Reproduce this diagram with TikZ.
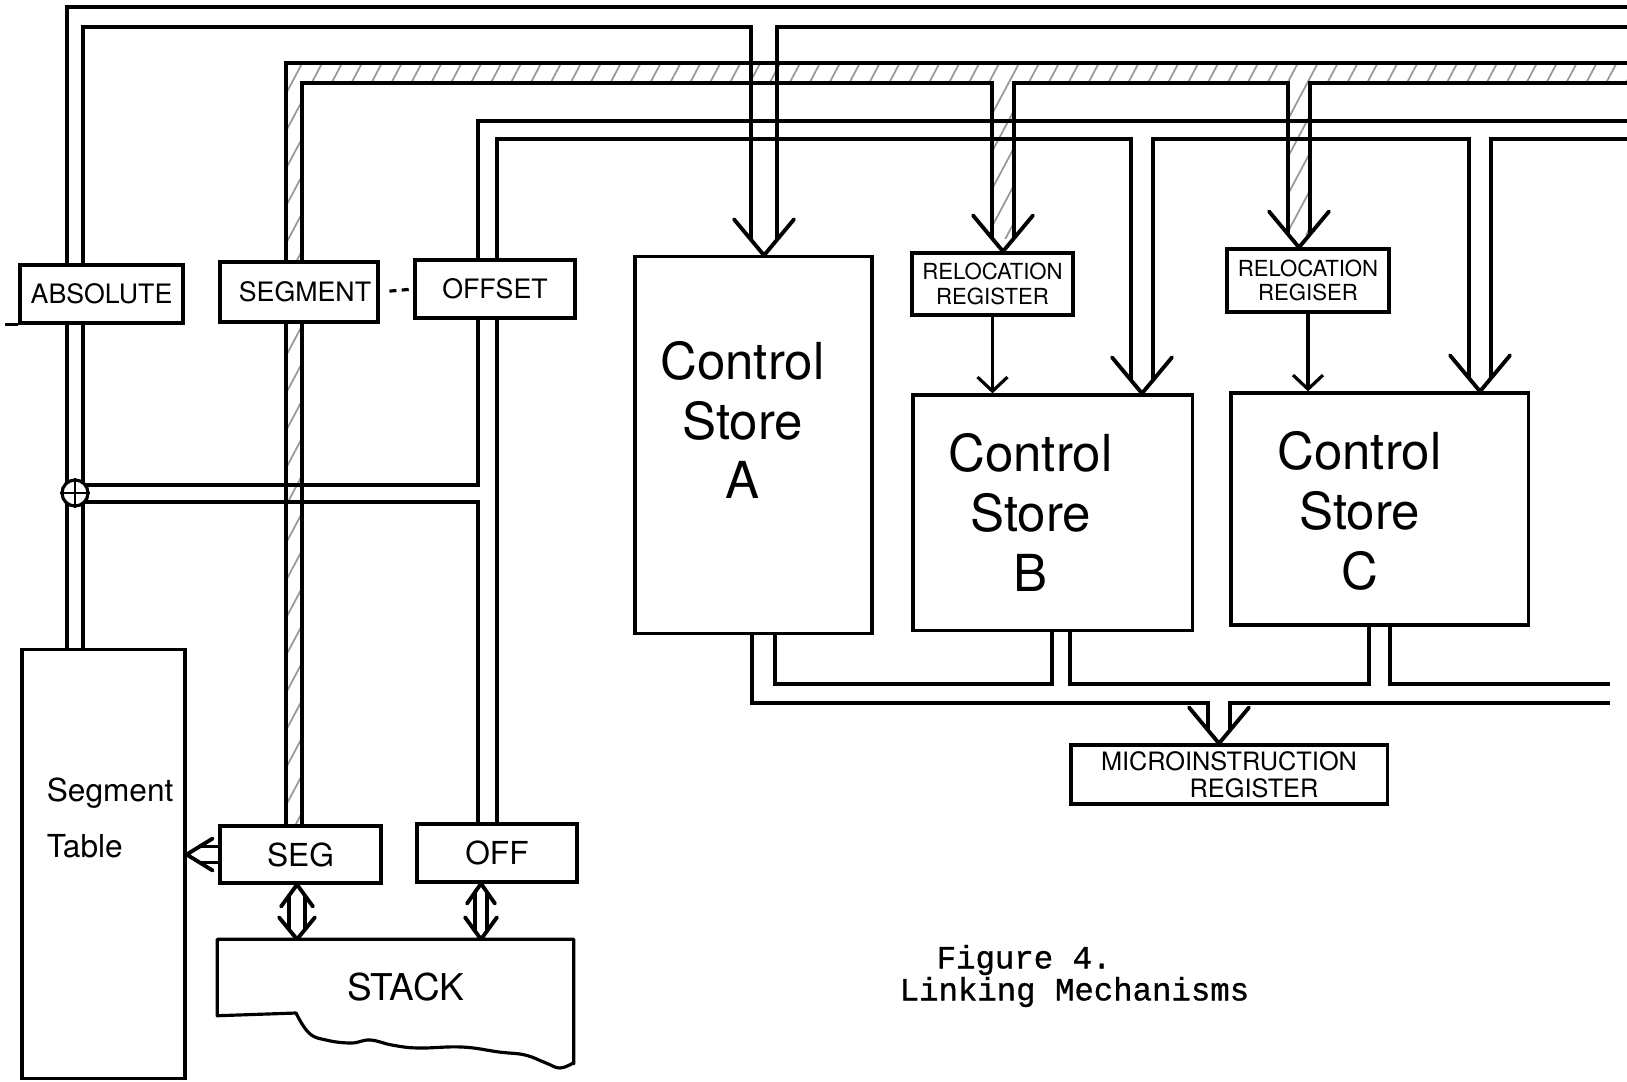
\documentclass[tikz,border=0pt]{standalone}
\usepackage{fontspec}
\setsansfont{TeX Gyre Heros}
\newfontfamily\typefont[FakeBold=1]{Liberation Mono}
\usetikzlibrary{positioning, backgrounds, patterns.meta, arrows.meta}

\begin{document}
\begin{tikzpicture}[
    x=0.01cm, y=-0.01cm,
    every node/.style={font=\sffamily},
    reg/.style={draw, fill=white, line width=0.9pt, inner sep=0pt, align=center},
    bus/.style={line width=0.9pt},
    vhead/.style={line width=1.1pt, line cap=round, line join=round},
    hatchfill/.style={pattern={Lines[angle=62, distance=5pt, line width=0.5pt]}, pattern color=black!40},
    capsfont/.style={font=\sffamily\fontsize{7.6}{9}\selectfont},
    regfont/.style={font=\sffamily\fontsize{9}{10}\selectfont},
    handfont/.style={font=\sffamily\fontsize{14.5}{17}\selectfont, align=center},
    relfont/.style={font=\sffamily\fontsize{6.3}{6.9}\selectfont},
    typed/.style={font=\typefont\fontsize{9.2}{9.6}\selectfont, anchor=west, inner sep=0pt},
]
\useasboundingbox (0,0) rectangle (1627,1081);

% ── address registers (top left) ─────────────────────────────
\node[reg, capsfont, minimum width=1.63cm, minimum height=0.58cm] (absolute) at (101.5,294) {ABSOLUTE};
\node[reg, capsfont, minimum width=1.58cm, minimum height=0.60cm] (segment) at (299,292) {\hspace*{0.12cm}SEGMENT};
\node[reg, capsfont, minimum width=1.60cm, minimum height=0.58cm] (offset) at (495,289) {OFFSET};

% ── control stores and relocation registers ──────────────────
\node[reg, minimum width=2.37cm, minimum height=3.76cm] (csA) at (753.5,445) {};
\node[reg, relfont, minimum width=1.61cm, minimum height=0.62cm] (rrB) at (992.5,284) {RELOCATION\\REGISTER};
\node[reg, minimum width=2.79cm, minimum height=2.35cm] (csB) at (1052.5,512.5) {};
\node[reg, relfont, minimum width=1.62cm, minimum height=0.63cm] (rrC) at (1308,280.5) {RELOCATION\\REGISER};
\node[reg, minimum width=2.97cm, minimum height=2.32cm] (csC) at (1379.5,509) {};
\node[handfont] (csAtxt) at ([shift={(-11,-25)}]csA.center) {Control\\Store\\A};
\node[handfont] (csBtxt) at ([shift={(-22,0)}]csB.center) {Control\\Store\\B};
\node[handfont] (csCtxt) at ([shift={(-20,2)}]csC.center) {Control\\Store\\C};
\node[reg, font=\sffamily\fontsize{7.2}{7.8}\selectfont, minimum width=3.16cm, minimum height=0.59cm] (mir) at (1229,774.5) {MICROINSTRUCTION\\\hspace*{0.5cm}REGISTER};

% ── segment table, SEG/OFF and the stack ─────────────────────
\node[reg, minimum width=1.63cm, minimum height=4.28cm] (segtab) at (103.5,864) {};
\node[font=\sffamily\fontsize{9}{16}\selectfont, anchor=west, align=left] (segtabtxt) at ([shift={(14,-46)}]segtab.west) {Segment\\Table};
\node[reg, regfont, minimum width=1.61cm, minimum height=0.57cm] (seg) at (300.5,854.5) {SEG};
\node[reg, regfont, minimum width=1.60cm, minimum height=0.58cm] (off) at (497,853) {OFF};
\node[font=\sffamily\fontsize{10.5}{12}\selectfont, minimum width=3.55cm, minimum height=0.95cm, inner sep=0pt] (stack) at (395.5,987.5) {\hspace*{0.2cm}STACK};
\node[circle, draw, fill=white, line width=0.9pt, minimum size=0.26cm, inner sep=0pt] (adder) at (75,493) {};
\draw[line width=0.8pt] (adder.north) -- (adder.south) (adder.west) -- (adder.east);

% ── caption ──────────────────────────────────────────────────
\node[typed] (figno) at (936,960) {Figure 4.};
\node[typed] (figname) at (899,992) {Linking Mechanisms};

% ── bus columns and rails ────────────────────────────────────
\coordinate (aL) at (67,0);   \coordinate (aR) at (83,0);
\coordinate (sL) at (286,0);  \coordinate (sR) at (302,0);
\coordinate (oL) at (478,0);  \coordinate (oR) at (497,0);
\coordinate (aOut) at (0,7);    \coordinate (aIn) at (0,27);
\coordinate (sOut) at (0,63);   \coordinate (sIn) at (0,83);
\coordinate (oOut) at (0,121);  \coordinate (oIn) at (0,139);
\coordinate (sumUp) at (0,485); \coordinate (sumDn) at (0,502);
\coordinate (qIn) at (0,684);   \coordinate (qOut) at (0,703);
\coordinate (rEdge) at (1627,0); \coordinate (qEdge) at (1610,0);
\coordinate (qA1) at (752,0);  \coordinate (qA2) at (775,0);
\coordinate (qB1) at (1052,0); \coordinate (qB2) at (1070,0);
\coordinate (qC1) at (1369,0); \coordinate (qC2) at (1390,0);

% ── arrow tips and their shafts ──────────────────────────────
\coordinate (tipA) at (764,0 |- csA.north);
\coordinate (tipB) at (1003,0 |- rrB.north);
\coordinate (tipC) at (1299,0 |- rrC.north);
\coordinate (tipD) at (1142,0 |- csB.north);
\coordinate (tipE) at (1480,0 |- csC.north);
\coordinate (tipM) at (1219,0 |- mir.north);
\coordinate (tA1) at ([shift={(-13,-15)}]tipA); \coordinate (tA2) at ([shift={(13,-15)}]tipA);
\coordinate (tB1) at ([shift={(-11,-13)}]tipB); \coordinate (tB2) at ([shift={(11,-13)}]tipB);
\coordinate (tC1) at ([shift={(-11,-13)}]tipC); \coordinate (tC2) at ([shift={(11,-13)}]tipC);
\coordinate (tD1) at ([shift={(-11,-13)}]tipD); \coordinate (tD2) at ([shift={(11,-13)}]tipD);
\coordinate (tE1) at ([shift={(-11,-13)}]tipE); \coordinate (tE2) at ([shift={(11,-13)}]tipE);
\coordinate (tM1) at ([shift={(-11,-13)}]tipM); \coordinate (tM2) at ([shift={(11,-13)}]tipM);

\begin{pgfonlayer}{background}
    % hatched segment bus
    \fill[hatchfill] (sL |- seg.north) |- (rEdge |- sOut) -- (rEdge |- sIn) -| (sR |- seg.north) -- cycle;
    \fill[hatchfill] (tB1 |- sIn) rectangle (tB2);
    \fill[hatchfill] (tC1 |- sIn) rectangle (tC2);
    \draw[bus] (sL |- seg.north) |- (rEdge |- sOut);
    \draw[bus] (sR |- seg.north) |- (tB1 |- sIn) -- (tB1);
    \draw[bus] (tB2) |- (tC1 |- sIn) -- (tC1);
    \draw[bus] (tC2) |- (rEdge |- sIn);
    % absolute bus, adder tap and offset bus
    \draw[bus] (aL |- segtab.north) |- (rEdge |- aOut);
    \draw[bus] (tA1) |- (aR |- aIn) -- (aR |- sumUp) -- (oL |- sumUp) |- (rEdge |- oOut);
    \draw[bus] (tA2) |- (rEdge |- aIn);
    \draw[bus] (aR |- segtab.north) |- (oL |- sumDn) -- (oL |- off.north);
    \draw[bus] (oR |- off.north) |- (tD1 |- oIn) -- (tD1);
    \draw[bus] (tD2) |- (tE1 |- oIn) -- (tE1);
    \draw[bus] (tE2) |- (rEdge |- oIn);
    % outputs of the control stores
    \draw[bus] (qA2 |- csA.south) |- (qB1 |- qIn) -- (qB1 |- csB.south);
    \draw[bus] (qB2 |- csB.south) |- (qC1 |- qIn) -- (qC1 |- csC.south);
    \draw[bus] (qC2 |- csC.south) |- (qEdge |- qIn);
    \draw[bus] (qA1 |- csA.south) |- (tM1 |- qOut) -- (tM1);
    \draw[bus] (tM2) |- (qEdge |- qOut);
\end{pgfonlayer}

% ── arrow heads ──────────────────────────────────────────────
\draw[vhead] (tipA) +(-30,-36) -- +(0,0) -- +(30,-36);
\draw[vhead] (tipB) +(-30,-36) -- +(0,0) -- +(30,-36);
\draw[vhead] (tipC) +(-30,-36) -- +(0,0) -- +(30,-36);
\draw[vhead] (tipD) +(-30,-36) -- +(0,0) -- +(30,-36);
\draw[vhead] (tipE) +(-30,-36) -- +(0,0) -- +(30,-36);
\draw[vhead] (tipM) +(-30,-36) -- +(0,0) -- +(30,-36);
\draw[bus, -{Straight Barb[length=4pt, width=8.5pt]}] (rrB.south) -- (rrB.south |- csB.north);
\draw[bus, -{Straight Barb[length=4pt, width=8.5pt]}] (rrC.south) -- (rrC.south |- csC.north);

% ── SEG / OFF to the stack and to the segment table ─────────
\coordinate (tipSu) at (297,0 |- seg.south);  \coordinate (tipSd) at (297,0 |- stack.north);
\coordinate (tipOu) at (481,0 |- off.south);  \coordinate (tipOd) at (481,0 |- stack.north);
\coordinate (tipT) at (segtab.east |- seg.west);
\draw[bus] ([shift={(-8,11)}]tipSu) -- ([shift={(-8,-10)}]tipSd);
\draw[bus] ([shift={(8,11)}]tipSu) -- ([shift={(8,-10)}]tipSd);
\draw[vhead] (tipSu) +(-16,22) -- +(0,0) -- +(16,22);
\draw[vhead] (tipSd) +(-18,-22) -- +(0,0) -- +(18,-22);
\draw[bus] ([shift={(-6,9)}]tipOu) -- ([shift={(-6,-9)}]tipOd);
\draw[bus] ([shift={(6,9)}]tipOu) -- ([shift={(6,-9)}]tipOd);
\draw[vhead] (tipOu) +(-14,20) -- +(0,0) -- +(14,20);
\draw[vhead] (tipOd) +(-16,-22) -- +(0,0) -- +(16,-22);
\draw[bus] ([shift={(13,-8)}]tipT) -- ([shift={(0,-8)}]seg.west);
\draw[bus] ([shift={(13,8)}]tipT) -- ([shift={(0,8)}]seg.west);
\draw[vhead] (tipT) +(26,-16) -- +(0,0) -- +(26,16);

% ── small links ──────────────────────────────────────────────
\draw[bus, dash pattern=on 0pt off 2.8pt on 2pt off 1.5pt on 2pt off 20pt] (segment.east) -- (offset.west);
\draw[bus] (absolute.south west) -- ++(-13,0);

% ── stack outline with torn bottom ───────────────────────────
\draw[bus, line join=round] ([shift={(0,-20)}]stack.south west) -- (stack.north west) -- (stack.north east)
    -- ([shift={(0,28)}]stack.south east)
    -- plot[smooth, tension=0.7] coordinates {(573,1063) (560,1068) (546,1063) (525,1055) (499,1052) (462,1047)
        (418,1048) (392,1045) (370,1040) (351,1043) (326,1040) (309,1033) (296,1013)}
    -- cycle;

\end{tikzpicture}
\end{document}
